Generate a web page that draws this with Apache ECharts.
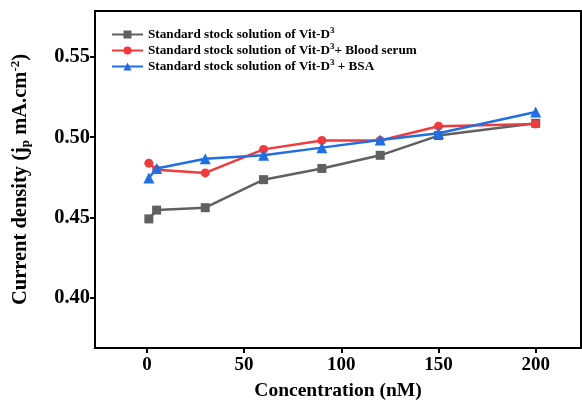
<!DOCTYPE html>
<html><head><meta charset="utf-8">
<script src="https://cdn.jsdelivr.net/npm/echarts@6/dist/echarts.min.js"></script>
<style>html,body{margin:0;padding:0;background:#fff}#c{width:582px;height:406px}</style>
</head><body><div id="c"></div>
<script>
const concentrations = [1, 5, 30, 60, 90, 120, 150, 200];
const vitD = [0.449, 0.4545, 0.456, 0.4735, 0.4805, 0.4887, 0.501, 0.5087];
const vitDSerum = [0.4838, 0.4797, 0.4777, 0.4924, 0.498, 0.498, 0.5069, 0.5083];
const vitDBSA = [0.4745, 0.4805, 0.4865, 0.4888, 0.4935, 0.4982, 0.5025, 0.5158];
const xTicks = [0, 50, 100, 150, 200];
const yTicks = [0.40, 0.45, 0.50, 0.55];
const seriesNames = [
  'Standard stock solution of Vit-D{sup|3}',
  'Standard stock solution of Vit-D{sup|3}+ Blood serum',
  'Standard stock solution of Vit-D{sup|3} + BSA'
];
const ids = ['s1', 's2', 's3'];
const colors = ['#606060', '#ef3b3d', '#1f6fe3'];
const symbols = ['rect', 'circle', 'triangle'];
const serif = '"Liberation Serif","Times New Roman",serif';

const pair = (arr) => concentrations.map((x, i) => [x, arr[i]]);
const allData = [vitD, vitDSerum, vitDBSA];

const chart = echarts.init(document.getElementById('c'), null, {renderer: 'canvas'});
chart.setOption({
  animation: false,
  backgroundColor: '#fff',
  grid: {left: 95, right: 1, top: 11, bottom: 52, show: true, borderColor: '#000', borderWidth: 2, backgroundColor: 'transparent'},
  legend: {
    left: 106, top: 21, orient: 'vertical', itemGap: 1, itemWidth: 31, itemHeight: 10,
    data: ids,
    formatter: (n) => seriesNames[ids.indexOf(n)],
    textStyle: {fontFamily: serif, fontWeight: 'bold', fontSize: 13.2, color: '#000',
      rich: {sup: {fontFamily: serif, fontWeight: 'bold', fontSize: 9, verticalAlign: 'top', padding: [0, 0, 8, 0], color: '#000'}}}
  },
  xAxis: {
    type: 'value', min: -26.7, max: 223.3, interval: 50,
    axisLine: {show: true, onZero: false, lineStyle: {color: '#000', width: 2}},
    axisTick: {show: true, inside: false, length: 5, lineStyle: {color: '#000', width: 2},
      customValues: xTicks},
    axisLabel: {fontFamily: serif, fontWeight: 'bold', fontSize: 19, color: '#000', margin: 8,
      customValues: xTicks},
    splitLine: {show: false},
    name: 'Concentration (nM)', nameLocation: 'middle', nameGap: 33,
    nameTextStyle: {fontFamily: serif, fontWeight: 'bold', fontSize: 19.5, color: '#000'}
  },
  yAxis: {
    type: 'value', min: 0.3684, max: 0.5788,
    axisLine: {show: true, onZero: false, lineStyle: {color: '#000', width: 2}},
    axisTick: {show: true, inside: false, length: 5, lineStyle: {color: '#000', width: 2},
      customValues: yTicks},
    axisLabel: {fontFamily: serif, fontWeight: 'bold', fontSize: 20.5, color: '#000', margin: 5,
      customValues: yTicks, formatter: (v) => v.toFixed(2)},
    splitLine: {show: false},
    name: 'Current density (j{sub|p} mA.cm{sup|-2})', nameLocation: 'middle', nameGap: 63, nameRotate: 90,
    nameTextStyle: {fontFamily: serif, fontWeight: 'bold', fontSize: 20.5, color: '#000',
      rich: {
        sub: {fontFamily: serif, fontWeight: 'bold', fontSize: 13, color: '#000', verticalAlign: 'bottom', padding: [8, 0, 0, 0]},
        sup: {fontFamily: serif, fontWeight: 'bold', fontSize: 13, color: '#000', verticalAlign: 'top', padding: [0, 0, 10, 0]}
      }}
  },
  series: ids.map((id, k) => ({
    name: id, type: 'line', data: pair(allData[k]),
    symbol: symbols[k], symbolSize: k === 2 ? 11 : 9,
    lineStyle: {color: colors[k], width: 2.5},
    itemStyle: {color: colors[k]},
    z: 2 + k
  }))
});
</script></body></html>
